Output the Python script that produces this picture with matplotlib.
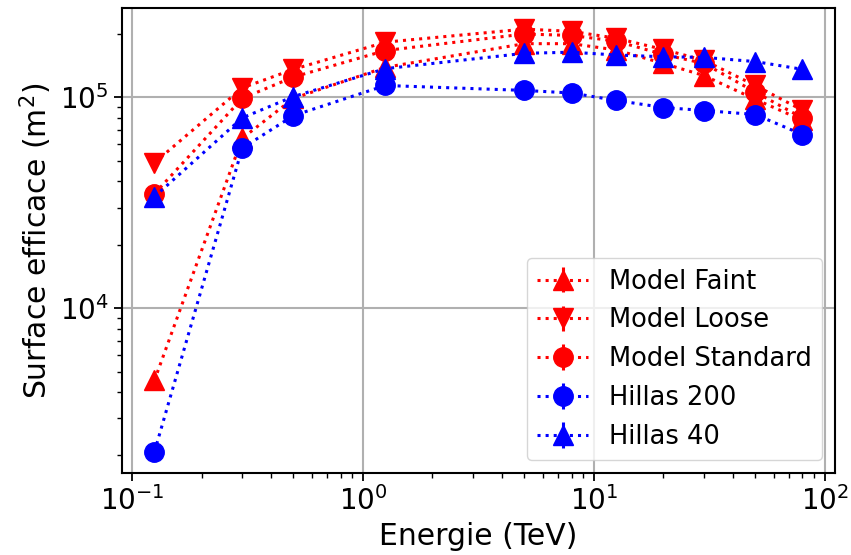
import matplotlib
matplotlib.use('Agg')
import matplotlib.pyplot as plt

# Energy bins (TeV)
energie = [0.125, 0.3, 0.5, 1.25, 5, 8, 12.5, 20, 30, 50, 80]

# Effective area (m^2)
model_faint = [4540, 64000, 99000, 139000, 180000, 180000, 168000, 145000, 127000, 98000, 78000]
model_loose = [49000, 111000, 136000, 183000, 211000, 206000, 191000, 169000, 150000, 114000, 87000]
model_standard = [34900, 99000, 125000, 167000, 200000, 197000, 185000, 160000, 145000, 106000, 80000]
hillas_200 = [2080, 57500, 82000, 114000, 108000, 105000, 96800, 89600, 86700, 83000, 66700]
hillas_40 = [33800, 80000, 101000, 137000, 162000, 164000, 159000, 156000, 155000, 148000, 136000]

fig = plt.figure(figsize=(8.51, 5.55), dpi=100)
ax = fig.add_axes([0.1434, 0.1477, 0.8376, 0.8379])

style = dict(linestyle=":", linewidth=2.2, markersize=14, yerr=0)
ax.errorbar(energie, model_faint, fmt="^", color="red", label="Model Faint", **style)
ax.errorbar(energie, model_loose, fmt="v", color="red", label="Model Loose", **style)
ax.errorbar(energie, model_standard, fmt="o", color="red", label="Model Standard", **style)
ax.errorbar(energie, hillas_200, fmt="o", color="blue", label="Hillas 200", **style)
ax.errorbar(energie, hillas_40, fmt="^", color="blue", label="Hillas 40", **style)

ax.set_xscale("log")
ax.set_yscale("log")
ax.grid(True, which="major", color="#b0b0b0", linewidth=1.5)

ax.set_xlabel("Energie (TeV)", fontsize=21.5)
ax.set_ylabel("Surface efficace (m$^2$)", fontsize=21.5)
ax.tick_params(which="major", labelsize=20, length=6, width=1.3)
ax.tick_params(which="minor", length=3.5, width=1)
for spine in ax.spines.values():
    spine.set_linewidth(1.5)

ax.legend(loc="lower right", fontsize=18.5)

fig.savefig("out.png", dpi=100)
